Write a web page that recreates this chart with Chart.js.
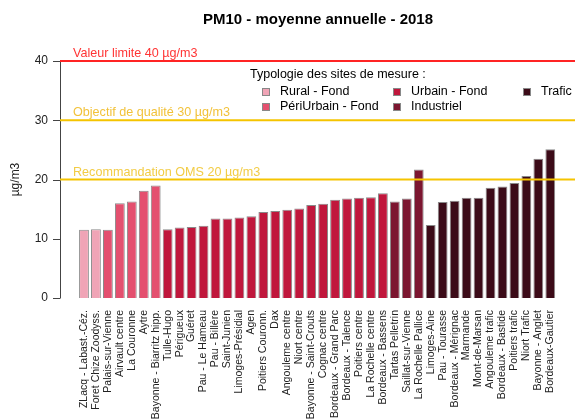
<!DOCTYPE html>
<html>
<head>
<meta charset="utf-8">
<script src="https://cdn.jsdelivr.net/npm/chart.js@4"></script>
<style>
  html, body { margin: 0; padding: 0; background: #fff; }
  #wrap { width: 575px; height: 420px; }
</style>
</head>
<body>
<div id="wrap"><canvas id="pm10"></canvas></div>
<script>
// Sites de mesure (ordre du graphique)
const sites = [
  "ZLacq - Labast.-Céz.", "Foret Chize Zoodyss.",
  "Palais-sur-Vienne", "Airvault centre", "La Couronne", "Aytre", "Bayonne - Biarritz hipp.",
  "Tulle-Hugo", "Périgueux", "Guéret", "Pau - Le Hameau", "Pau - Billère", "Saint-Junien",
  "Limoges-Présidial", "Agen", "Poitiers Couronn.", "Dax", "Angouleme centre", "Niort centre",
  "Bayonne - Saint-Crouts", "Cognac centre", "Bordeaux - Grand Parc", "Bordeaux - Talence",
  "Poitiers centre", "La Rochelle centre", "Bordeaux - Bassens",
  "Tartas Pelletrin", "Saillat-sur-Vienne", "La Rochelle Pallice",
  "Limoges-Aine", "Pau - Tourasse", "Bordeaux - Mérignac", "Marmande", "Mont-de-Marsan",
  "Angouleme trafic", "Bordeaux - Bastide", "Poitiers trafic", "Niort Trafic",
  "Bayonne - Anglet", "Bordeaux-Gautier"
];

// Moyennes annuelles PM10 (µg/m3)
const moyennes = [
  11.5, 11.6,
  11.5, 16.0, 16.3, 18.1, 19.0,
  11.6, 11.9, 12.0, 12.2, 13.4, 13.4, 13.6, 13.8, 14.5, 14.7, 14.9, 15.1,
  15.7, 15.9, 16.6, 16.8, 16.9, 17.0, 17.7,
  16.3, 16.8, 21.7,
  12.3, 16.2, 16.4, 16.9, 16.9, 18.6, 18.8, 19.4, 20.6, 23.5, 25.1
];

// Typologie de chaque site (index dans typologies)
const typeSite = [
  0, 0,
  1, 1, 1, 1, 1,
  2, 2, 2, 2, 2, 2, 2, 2, 2, 2, 2, 2, 2, 2, 2, 2, 2, 2, 2,
  3, 3, 3,
  4, 4, 4, 4, 4, 4, 4, 4, 4, 4, 4
];

const typologies = ["Rural - Fond", "PériUrbain - Fond", "Urbain - Fond", "Industriel", "Trafic"];
const couleursType = ["#f0a4b6", "#e4506f", "#c0173c", "#7c1630", "#3c0b18"];

// Seuils réglementaires
const seuils = [40, 30, 20];
const seuilsTexte = ["Valeur limite 40 µg/m3", "Objectif de qualité 30 µg/m3", "Recommandation OMS 20 µg/m3"];
const seuilsLigne = ["#ff2424", "#f5c400", "#f5c400"];
const seuilsCouleurTexte = ["#ff3535", "#f2c23a", "#f2cc45"];

const yTicks = [0, 10, 20, 30, 40];

const FONT = "'Liberation Sans', Arial, sans-serif";

/* Titre, axe Y façon R, lignes de seuil et légende */
const decorPlugin = {
  id: "decor",
  afterDatasetsDraw(chart) {
    const ctx = chart.ctx;
    const y = chart.scales.y;
    const axeX = 60;
    ctx.save();

    // axe vertical + graduations
    ctx.strokeStyle = "#444";
    ctx.lineWidth = 1;
    ctx.beginPath();
    ctx.moveTo(axeX + 0.5, y.getPixelForValue(0));
    ctx.lineTo(axeX + 0.5, y.getPixelForValue(40));
    yTicks.forEach((t) => {
      const py = Math.round(y.getPixelForValue(t)) + 0.5;
      ctx.moveTo(axeX - 7, py);
      ctx.lineTo(axeX + 0.5, py);
    });
    ctx.stroke();

    // lignes de seuil
    seuils.forEach((s, i) => {
      const py = y.getPixelForValue(s);
      ctx.strokeStyle = seuilsLigne[i];
      ctx.lineWidth = 2;
      ctx.beginPath();
      ctx.moveTo(axeX, py);
      ctx.lineTo(chart.width, py);
      ctx.stroke();
      ctx.fillStyle = seuilsCouleurTexte[i];
      ctx.font = "12.6px " + FONT;
      ctx.textAlign = "left";
      ctx.textBaseline = "alphabetic";
      ctx.fillText(seuilsTexte[i], 73, py - 4);
    });

    // titre
    ctx.fillStyle = "#000";
    ctx.font = "bold 15px " + FONT;
    ctx.textAlign = "center";
    ctx.textBaseline = "middle";
    ctx.fillText("PM10 - moyenne annuelle - 2018", 318, 20);

    // légende
    ctx.font = "12.5px " + FONT;
    ctx.textAlign = "left";
    ctx.fillStyle = "#000";
    ctx.fillText("Typologie des sites de mesure :", 250, 75);
    const colX = [262, 393, 523];
    const rowY = [92, 107];
    typologies.forEach((nom, i) => {
      const c = i < 2 ? 0 : i < 4 ? 1 : 2;
      const r = i < 2 ? i : i < 4 ? i - 2 : 0;
      const px = colX[c], py = rowY[r];
      ctx.fillStyle = couleursType[i];
      ctx.fillRect(px, py - 4, 8, 8);
      ctx.strokeStyle = "#888";
      ctx.lineWidth = 1;
      ctx.strokeRect(px + 0.5, py - 3.5, 7, 7);
      ctx.fillStyle = "#000";
      ctx.fillText(nom, px + 18, py);
    });
    ctx.restore();
  }
};

const ctx = document.getElementById("pm10").getContext("2d");
const chart = new Chart(ctx, {
  type: "bar",
  data: {
    labels: sites,
    datasets: [
      {
        label: "PM10",
        data: moyennes,
        backgroundColor: typeSite.map((t) => couleursType[t]),
        borderColor: "#8a8a8a",
        borderWidth: 1,
        barPercentage: 0.82,
        categoryPercentage: 1.0,
      },
    ],
  },
  options: {
    responsive: true,
    maintainAspectRatio: false,
    animation: false,
    layout: { padding: { top: 61, right: 9, left: 0, bottom: 0 } },
    plugins: {
      legend: { display: false },
      tooltip: { enabled: false },
    },
    scales: {
      x: {
        grid: { display: false, drawTicks: false },
        border: { display: false },
        ticks: {
          autoSkip: false,
          maxRotation: 90,
          minRotation: 90,
          padding: 12,
          color: "#222",
          font: { family: FONT, size: 10.5 },
        },
        afterFit: (scale) => { scale.height = 122; },
      },
      y: {
        min: 0,
        max: 40,
        afterBuildTicks: (scale) => { scale.ticks = yTicks.map((v) => ({ value: v })); },
        grid: { display: false, drawTicks: false },
        border: { display: false },
        ticks: {
          padding: 30,
          color: "#222",
          font: { family: FONT, size: 12 },
        },
        title: {
          display: true,
          text: "µg/m3",
          color: "#222",
          font: { family: FONT, size: 12 },
          padding: { top: 8, bottom: 0 },
        },
        afterFit: (scale) => { scale.width = 78; },
      },
    },
  },
  plugins: [decorPlugin],
});
</script>
</body>
</html>
